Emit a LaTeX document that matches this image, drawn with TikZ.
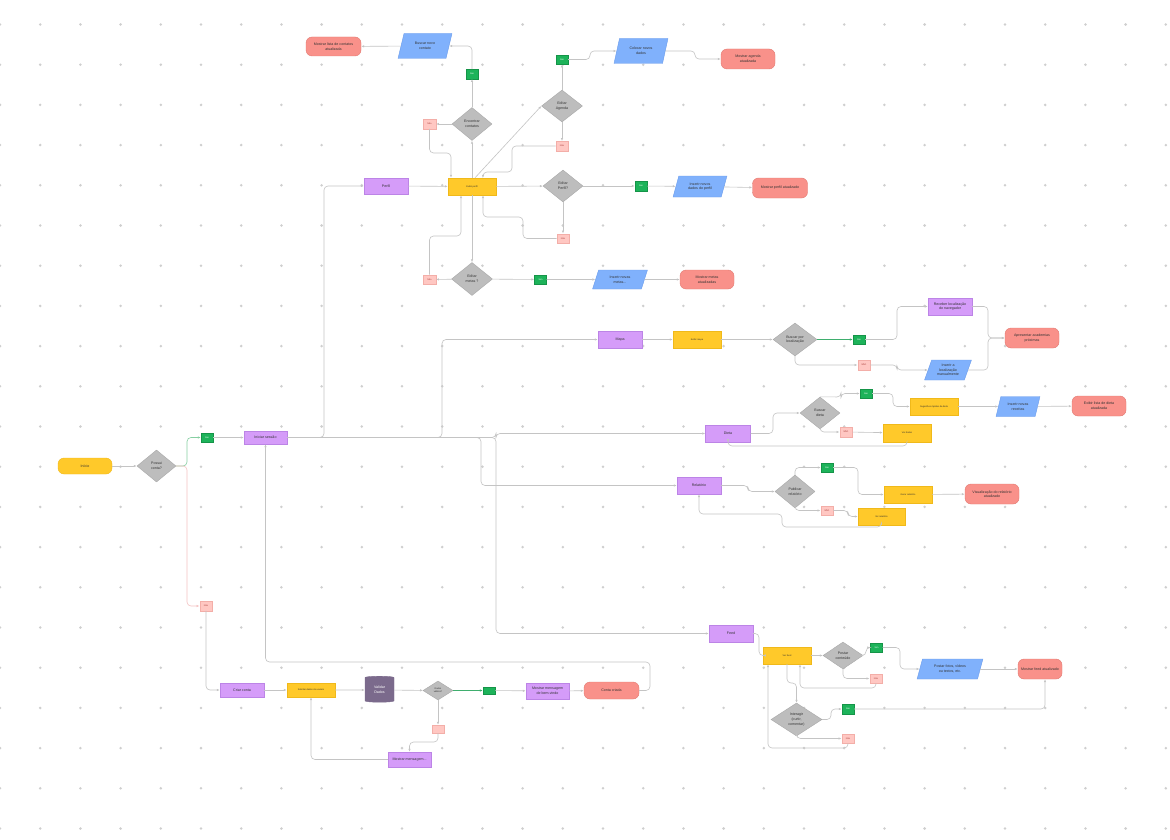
\documentclass[tikz,border=0pt]{standalone}
\usepackage{fontspec}
\setmainfont{Liberation Sans}
\usetikzlibrary{shapes.geometric,arrows.meta}

\definecolor{lila}{HTML}{D59CF9}
\definecolor{lilaline}{HTML}{BC84E6}
\definecolor{amarelo}{HTML}{FFC92A}
\definecolor{amareloline}{HTML}{F0B91A}
\definecolor{salmao}{HTML}{F9918A}
\definecolor{salmaoline}{HTML}{E27A72}
\definecolor{azul}{HTML}{80B1FC}
\definecolor{azulline}{HTML}{6A9BEB}
\definecolor{cinza}{HTML}{BDBDBD}
\definecolor{cinzaline}{HTML}{A9A9A9}
\definecolor{verde}{HTML}{1DB35A}
\definecolor{verdeline}{HTML}{159448}
\definecolor{rosa}{HTML}{FFC7C2}
\definecolor{rosaline}{HTML}{F3AEA8}
\definecolor{vermelho}{HTML}{A63A36}
\definecolor{banco}{HTML}{7B6A8C}
\definecolor{linha}{HTML}{C4C4C4}
\definecolor{verdeclaro}{HTML}{86CFA2}
\definecolor{verdeescuro}{HTML}{3FAE6E}
\definecolor{rosaclaro}{HTML}{F4C2C2}
\definecolor{ponto}{HTML}{CFCFCF}
\definecolor{txt}{HTML}{333333}

\begin{document}
\begin{tikzpicture}[x=1pt,y=1pt]
        \tikzstyle{every node}+=[inner sep=0pt, align=center, text=txt, font=\fontsize{3.6}{4.6}\selectfont]
        \tikzstyle{proc}=[draw=lilaline, fill=lila, minimum width=44, minimum height=16]
        \tikzstyle{acao}=[draw=amareloline, fill=amarelo, minimum width=48, minimum height=17, font=\fontsize{2.3}{3}\selectfont]
        \tikzstyle{fim}=[draw=salmaoline, fill=salmao, rounded corners=6pt, minimum width=55, minimum height=20]
        \tikzstyle{dado}=[trapezium, trapezium left angle=68, trapezium right angle=112, trapezium stretches=true, draw=azulline, fill=azul, minimum width=54, minimum height=25]
        \tikzstyle{decisao}=[diamond, draw=cinzaline, fill=cinza, minimum width=40, minimum height=33]
        \tikzstyle{sim}=[draw=verdeline, fill=verde, text=white, minimum width=12, minimum height=9.5, font=\fontsize{2.2}{3}\selectfont]
        \tikzstyle{nao}=[draw=rosaline, fill=rosa, text=vermelho, minimum width=12.5, minimum height=9.5, font=\fontsize{2.2}{3}\selectfont]
        \tikzstyle{seta}=[draw=linha, line width=0.6pt, rounded corners=4pt, -{Latex[length=3pt,width=2.4pt]}]

        \fill [white] (0,0) rectangle (1170,-840);
        \useasboundingbox (0,0) rectangle (1170,-840);
        \foreach \i in {0,...,29}
          \foreach \j in {0,...,20}
            \fill [ponto] (40.2*\i,-24.5-40.2*\j) circle (1.4);

        \node [draw=amareloline, fill=amarelo, rounded corners=6pt, minimum width=54, minimum height=16] (inicio) at (85,-466) {Início};
        \node [decisao, minimum width=39, minimum height=32] (possui) at (156.5,-466) {Possui\\conta?};
        \node [sim] (simconta) at (207,-437.5) {Sim};
        \node [nao] (naoconta) at (206,-606) {Não};
        \node [proc, minimum width=43, minimum height=13] (sessao) at (265.5,-437.5) {Iniciar sessão};

        \node [proc, minimum height=14] (criar) at (242,-690) {Criar conta};
        \node [acao, minimum height=14] (solicitar) at (311,-690) {Solicitar dados do usuário};
        \node [cylinder, shape border rotate=90, aspect=0.25, draw=banco, fill=banco, text=white, minimum width=29, minimum height=26] (validar) at (379.5,-690) {Validar\\Dados};
        \node [decisao, minimum width=30, minimum height=19, font=\fontsize{2.3}{3}\selectfont] (validos) at (438,-690.5) {Dados\\válidos?};
        \node [sim, minimum height=7.5] (simvalido) at (489,-690.5) {};
        \node [proc, minimum width=43] (bemvindo) at (547.5,-691) {Mostrar mensagem\\de bem-vindo};
        \node [fim, minimum height=17] (criada) at (611.5,-690.5) {Conta criada};
        \node [nao, minimum height=8] (naovalido) at (438,-729) {};
        \node [proc, minimum width=43, minimum height=15] (msgerro) at (409.5,-759.5) {Mostrar mensagem...};

        \node [proc] (perfil) at (386,-186) {Perfil};
        \node [acao] (exibirperfil) at (472,-186.5) {Exibir perfil};
        \node [decisao] (contatos) at (472,-124) {Encontrar\\contatos};
        \node [nao] (naocontatos) at (429.5,-124) {Não};
        \node [sim] (simcontatos) at (472,-74) {Sim};
        \node [dado] (buscarcontato) at (425,-46) {Buscar novo\\contato};
        \node [fim, minimum height=19] (listacontatos) at (333.5,-46.5) {Mostrar lista de contatos\\atualizada};
        \node [decisao, minimum width=41, minimum height=32] (agenda) at (562,-106) {Editar\\Agenda};
        \node [sim] (simagenda) at (562,-59.5) {Sim};
        \node [dado] (novosdados) at (641,-51) {Colocar novos\\dados};
        \node [fim, minimum width=54] (agendaok) at (748,-59) {Mostrar agenda\\atualizada};
        \node [nao] (naoagenda) at (562,-146) {Não};
        \node [decisao, minimum height=32] (editperfil) at (563,-186) {Editar\\Perfil?};
        \node [sim] (simperfil) at (641,-186) {Sim};
        \node [dado, minimum height=21] (dadosperfil) at (700,-186.5) {Inserir novos\\dados do perfil};
        \node [fim] (perfilok) at (780,-188) {Mostrar perfil atualizado};
        \node [nao] (naoperfil) at (563,-238.5) {Não};
        \node [decisao, minimum width=41] (metas) at (472,-279) {Editar\\metas ?};
        \node [nao] (naometas) at (429.5,-279.5) {Não};
        \node [sim] (simmetas) at (540.5,-279.5) {Sim};
        \node [dado, minimum width=55, minimum height=19] (novasmetas) at (620,-279.5) {Inserir novas\\metas...};
        \node [fim, minimum width=54, minimum height=19] (metasok) at (707,-279.5) {Mostrar metas\\atualizadas};

        \node [proc, minimum height=17] (mapa) at (620,-339.5) {Mapa};
        \node [acao] (exibirmapa) at (697,-339.5) {Exibir mapa};
        \node [decisao, minimum width=44] (localizacao) at (795,-339.5) {Buscar por\\localização};
        \node [sim] (simlocal) at (859,-339.5) {Sim};
        \node [proc, minimum height=17] (navegador) at (950,-306.5) {Receber localização\\do navegador};
        \node [fim, minimum width=54] (academias) at (1032,-338) {Apresentar academias\\próximas};
        \node [nao] (naolocal) at (864,-365) {NÃO};
        \node [dado, minimum width=47, minimum height=20] (manual) at (948,-370) {Inserir a\\localização\\manualmente};

        \node [proc, minimum width=45, minimum height=17] (dieta) at (728,-433.5) {Dieta};
        \node [decisao, minimum height=32] (buscardieta) at (820,-413) {Buscar\\dieta};
        \node [sim] (simdieta) at (866,-393.5) {Sim};
        \node [acao] (sugestoes) at (934,-406.5) {Sugestões rápidas de dieta};
        \node [dado, minimum width=44, minimum height=20] (receitas) at (1018,-406.5) {Inserir novas\\receitas};
        \node [fim, minimum width=54] (dietaok) at (1099,-406) {Exibir lista de dieta\\atualizada};
        \node [nao] (naodieta) at (846,-432) {NÃO};
        \node [acao, minimum height=18] (verdieta) at (907,-433) {Ver dietas};

        \node [proc, minimum height=17] (relatorio) at (699,-485.5) {Relatório};
        \node [decisao] (publicar) at (795,-491.5) {Publicar\\relatório};
        \node [sim] (simrel) at (827,-467.5) {Sim};
        \node [acao] (gerarrel) at (908,-494.5) {Gerar relatório};
        \node [fim, minimum width=54] (relok) at (992,-494) {Visualização do relatório\\atualizado};
        \node [nao] (naorel) at (827,-510.5) {NÃO};
        \node [acao, minimum width=47] (verrel) at (881.5,-516.5) {Ver relatório};

        \node [proc, minimum height=17] (feed) at (731,-633.5) {Feed};
        \node [acao] (verfeed) at (787,-655.5) {Ver feed};
        \node [decisao, minimum height=27] (postar) at (843,-655.5) {Postar\\conteúdo};
        \node [sim] (simpostar) at (876.5,-647.5) {Sim};
        \node [dado, minimum width=66, minimum height=20] (fotos) at (950,-669) {Postar fotos, vídeos\\ou textos, etc.};
        \node [fim, minimum width=44] (feedok) at (1040,-669) {Mostrar feed atualizado};
        \node [nao] (naopostar) at (876,-678.5) {Não};
        \node [decisao, minimum width=51] (interagir) at (796.5,-719.5) {Interagir\\(curtir,\\comentar)};
        \node [sim] (siminter) at (848,-709) {Sim};
        \node [nao] (naointer) at (848,-738.5) {Não};

        \draw [seta] (inicio) -- (possui);
        \draw [seta, draw=verdeclaro] (possui.east) -- (187,-466) |- (simconta.west);
        \draw [seta, draw=rosaclaro] (possui.east) -- (187,-466) |- (naoconta.west);
        \draw [seta] (simconta) -- (sessao);
        \draw [seta] (naoconta.south) |- (criar.west);
        \draw [seta] (sessao.east) -- (324,-437.5) |- (perfil.west);
        \draw [seta] (sessao.east) -- (442,-437.5) |- (mapa.west);
        \draw [seta] (sessao.east) -- (481,-437.5) |- (relatorio.west);
        \draw [seta] (sessao.east) -- (496,-437.5) |- (dieta.west);
        \draw [seta] (sessao.east) -- (496,-437.5) |- (feed.west);
        \draw [seta] (criada.east) -- (650,-690.5) |- (265.5,-662) -- (sessao.south);

        \draw [seta] (criar) -- (solicitar);
        \draw [seta] (solicitar) -- (validar);
        \draw [seta] (validar) -- (validos);
        \draw [seta, draw=verdeescuro] (validos) -- (simvalido);
        \draw [seta] (simvalido) -- (bemvindo);
        \draw [seta] (bemvindo) -- (criada);
        \draw [seta] (validos) -- (naovalido);
        \draw [seta] (naovalido.south) -- (438,-742) -| (msgerro.north);
        \draw [seta] (msgerro.west) -| (solicitar.south);

        \draw [seta] (perfil) -- (exibirperfil);
        \draw [seta] (exibirperfil) -- (editperfil);
        \draw [seta] (editperfil) -- (simperfil);
        \draw [seta] (simperfil) -- (dadosperfil);
        \draw [seta] (dadosperfil) -- (perfilok);
        \draw [seta] (editperfil) -- (naoperfil);
        \draw [seta] (naoperfil.west) -| (523,-217) -| ([xshift=11pt]exibirperfil.south);
        \draw [seta] (exibirperfil) -- (metas);
        \draw [seta] (metas) -- (naometas);
        \draw [seta] (naometas.north) |- (461,-236) -- ([xshift=-11pt]exibirperfil.south);
        \draw [seta] (metas) -- (simmetas);
        \draw [seta] (simmetas) -- (novasmetas);
        \draw [seta] (novasmetas) -- (metasok);
        \draw [seta] (exibirperfil) -- (contatos);
        \draw [seta] (contatos) -- (simcontatos);
        \draw [seta] (simcontatos.north) |- (buscarcontato.east);
        \draw [seta] (buscarcontato) -- (listacontatos);
        \draw [seta] (contatos) -- (naocontatos);
        \draw [seta] (naocontatos.south) |- (451,-153) -- ([xshift=-21pt]exibirperfil.north);
        \draw [seta] ([xshift=3pt]exibirperfil.north) -- (agenda.west);
        \draw [seta] (agenda) -- (simagenda);
        \draw [seta] (simagenda.east) -- (590,-59.5) |- (novosdados.west);
        \draw [seta] (novosdados.east) -- (695,-51) |- (agendaok.west);
        \draw [seta] (agenda) -- (naoagenda);
        \draw [seta] (naoagenda.west) -| (512,-172) -| ([xshift=11pt]exibirperfil.north);

        \draw [seta] (mapa) -- (exibirmapa);
        \draw [seta] (exibirmapa) -- (localizacao);
        \draw [seta, draw=verdeescuro] (localizacao) -- (simlocal);
        \draw [seta] (simlocal.east) -- (897,-339.5) |- (navegador.west);
        \draw [seta] (navegador.east) -- (988,-306.5) |- (academias.west);
        \draw [seta] (localizacao.south) |- (naolocal.west);
        \draw [seta] (naolocal.east) -- (897,-365) |- (manual.west);
        \draw [seta] (manual.east) -- (988,-370) |- (academias.west);

        \draw [seta] (dieta.east) -- (773,-433.5) |- (buscardieta.west);
        \draw [seta] (buscardieta.north) -- (841,-397) |- (simdieta.west);
        \draw [seta] (simdieta.east) -- (893,-393.5) |- (sugestoes.west);
        \draw [seta] (sugestoes) -- (receitas);
        \draw [seta] (receitas) -- (dietaok);
        \draw [seta] (buscardieta.south) |- (naodieta.west);
        \draw [seta] (naodieta) -- (verdieta);
        \draw [seta] (verdieta.south) |- (728,-446) -- (dieta.south);

        \draw [seta] (relatorio.east) -- (748,-485.5) |- (publicar.west);
        \draw [seta] (publicar.north) |- (simrel.west);
        \draw [seta] (simrel.east) -- (858,-467.5) |- (gerarrel.west);
        \draw [seta] (gerarrel) -- (relok);
        \draw [seta] (publicar.south) |- (naorel.west);
        \draw [seta] (naorel.east) -- (848,-510.5) |- (verrel.west);
        \draw [seta] (verrel.south) |- (782,-527) |- (699,-514) -- (relatorio.south);

        \draw [seta] (feed.east) -- (759,-633.5) |- (verfeed.west);
        \draw [seta] (verfeed) -- (postar);
        \draw [seta] (postar.east) -- (866,-655.5) |- (simpostar.west);
        \draw [seta] (simpostar.east) -- (900,-647.5) |- (fotos.west);
        \draw [seta] (fotos) -- (feedok);
        \draw [seta] (postar.south) |- (naopostar.west);
        \draw [seta] (naopostar.south) |- (800,-688) -- ([xshift=13pt]verfeed.south);
        \draw [seta] (verfeed.south) |- (796.5,-683) -- (interagir.north);
        \draw [seta] (interagir.east) -- (831,-719.5) |- (siminter.west);
        \draw [seta] (siminter.east) -| ([xshift=5pt]feedok.south);
        \draw [seta] (interagir.south) |- (naointer.west);
        \draw [seta] (naointer.south) |- (768,-748) -- ([xshift=-19pt]verfeed.south);
\end{tikzpicture}
\end{document}
